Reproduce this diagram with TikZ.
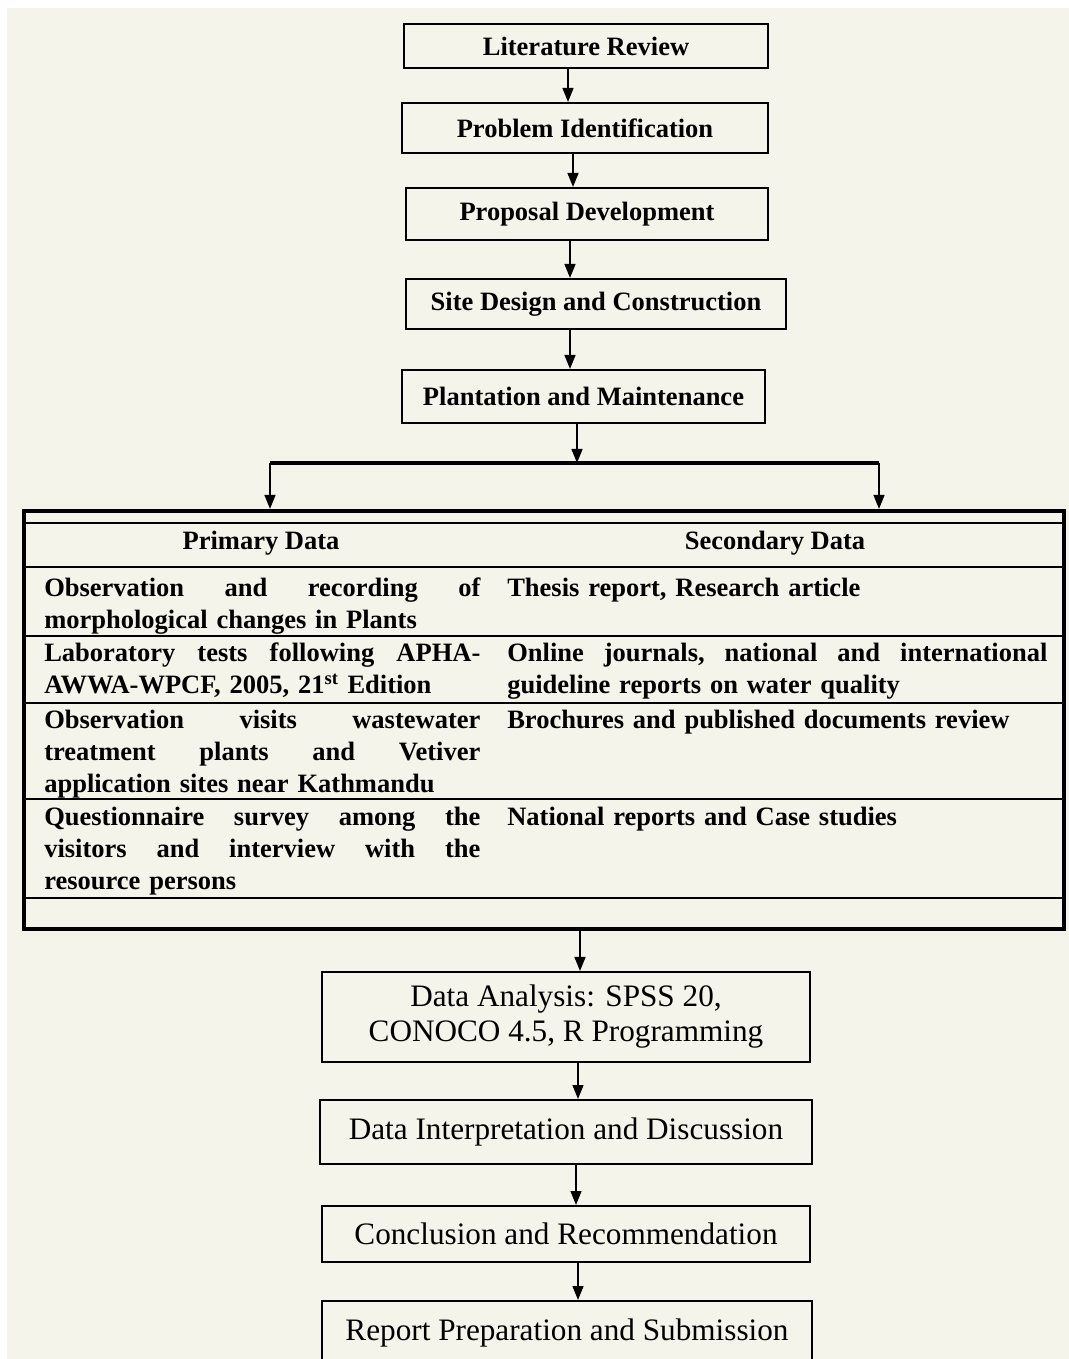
\documentclass[tikz,border=0pt]{standalone}
\usepackage{fontspec}
\setmainfont{Liberation Serif}
\usepackage{tikz}
\usetikzlibrary{arrows.meta, positioning}
\definecolor{PaperCream}{RGB}{244,244,234}
\newcommand{\fullline}[2]{\leavevmode\hbox to #1{#2}}

\begin{document}
\begin{tikzpicture}[x=0.025cm, y=-0.025cm,
    stepbox/.style={draw, line width=0.05cm, inner sep=0pt, align=center,
                    font=\fontsize{18.85}{22.8}\selectfont\bfseries},
    lowbox/.style={draw, line width=0.05cm, inner sep=0pt, align=center,
                   font=\fontsize{22.2}{24.9}\selectfont},
    cell/.style={inner sep=0pt, anchor=base west, align=left,
                 font=\fontsize{18.85}{22.8}\selectfont\bfseries},
    hrule/.style={line width=0.05cm},
    arr/.style={-{Triangle[length=0.35cm, width=0.27cm]}, line width=0.05cm}
  ]
  \clip (0,0) rectangle (1069,1359);
  \fill[white] (0,0) rectangle (1069,1359);
  \fill[PaperCream] (7,8) rectangle (1069,1359);

  % upper steps
  \node[stepbox, minimum width=9.1cm, minimum height=1.1cm]
        (lit) at (586,46) {Literature Review};
  \node[stepbox, minimum width=9.15cm, minimum height=1.25cm]
        (prob) at (585,128) {Problem Identification};
  \node[stepbox, minimum width=9.05cm, minimum height=1.3cm]
        (prop) at (587,214) {Proposal Development};
  \node[stepbox, minimum width=9.5cm, minimum height=1.25cm]
        (site) at (596,304) {Site Design and Construction};
  \node[stepbox, minimum width=9.075cm, minimum height=1.325cm]
        (plant) at (583.5,396.5) {Plantation and Maintenance};

  \foreach \a/\b/\x in {lit/prob/568, prob/prop/573, prop/site/570, site/plant/570} {
    \draw[arr] (\a.south -| \x,0) -- (\b.north -| \x,0);
  }

  % data table
  \node[draw, line width=0.1cm, minimum width=25.9875cm, minimum height=10.45cm]
        (tab) at (544.25,720) {};
  \foreach \y in {523,567,636,703,799,898} {
    \draw[hrule] (tab.west |- 0,\y) -- (tab.east |- 0,\y);
  }

  % split to both columns
  \coordinate (split) at (577,463);
  \coordinate (lsplit) at (270,463);
  \coordinate (rsplit) at (879,463);
  \draw[arr] (plant.south -| split) -- (split);
  \draw[line width=0.1cm] (lsplit) -- (rsplit);
  \draw[arr] (lsplit) -- (lsplit |- tab.north);
  \draw[arr] (rsplit) -- (rsplit |- tab.north);

  \node[cell, anchor=base] (hprim) at (261,549) {Primary Data};
  \node[cell, anchor=base] (hsec) at (775,549) {Secondary Data};

  \node[cell, text width=10.9cm] (prim1) at (44,596)
        {\fullline{10.9cm}{Observation\hfill and\hfill recording\hfill of}\\morphological changes in Plants};
  \node[cell, text width=10.9cm] (prim2) at (44,661)
        {\fullline{10.9cm}{Laboratory\hfill tests\hfill following\hfill APHA-}\\AWWA-WPCF, 2005, 21\textsuperscript{st} Edition};
  \node[cell, text width=10.9cm] (prim3) at (44,728)
        {\fullline{10.9cm}{Observation\hfill visits\hfill wastewater}\\\fullline{10.9cm}{treatment\hfill plants\hfill and\hfill Vetiver}\\application sites near Kathmandu};
  \node[cell, text width=10.9cm] (prim4) at (44,825)
        {\fullline{10.9cm}{Questionnaire\hfill survey\hfill among\hfill the}\\\fullline{10.9cm}{visitors\hfill and\hfill interview\hfill with\hfill the}\\resource persons};

  \node[cell, text width=13.5cm] (sec1) at (507,596) {Thesis report, Research article};
  \node[cell, text width=13.5cm] (sec2) at (507,661)
        {\fullline{13.5cm}{Online\hfill journals,\hfill national\hfill and\hfill international}\\guideline reports on water quality};
  \node[cell, text width=13.5cm] (sec3) at (507,728) {Brochures and published documents review};
  \node[cell, text width=13.5cm] (sec4) at (507,825) {National reports and Case studies};

  % lower steps
  \node[lowbox, minimum width=12.2cm, minimum height=2.25cm]
        (ana) at (566,1017) {Data Analysis: SPSS 20,\\CONOCO 4.5, R Programming};
  \node[lowbox, minimum width=12.3cm, minimum height=1.6cm]
        (interp) at (566,1132) {Data Interpretation and Discussion};
  \node[lowbox, minimum width=12.2cm, minimum height=1.4cm]
        (concl) at (566,1234) {Conclusion and Recommendation};
  \node[lowbox, minimum width=12.25cm, minimum height=1.6cm]
        (report) at (567,1333) {Report Preparation and Submission};

  \foreach \a/\b/\x in {tab/ana/580, ana/interp/578, interp/concl/576, concl/report/578} {
    \draw[arr] (\a.south -| \x,0) -- (\b.north -| \x,0);
  }
\end{tikzpicture}
\end{document}
